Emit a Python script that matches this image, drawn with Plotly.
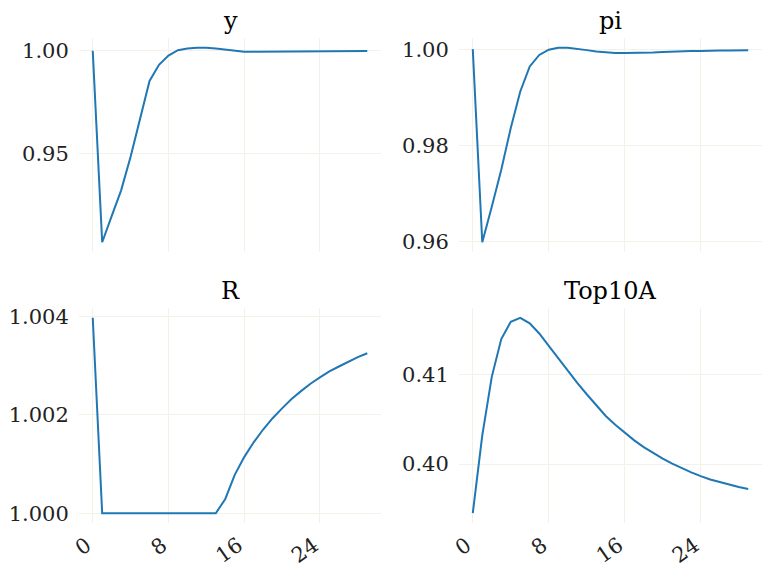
import plotly.graph_objects as go

periods = list(range(30))

y_vals = [1.0000, 0.9067, 0.9194, 0.9320, 0.9484, 0.9671, 0.9853, 0.9932, 0.9977, 1.0003,
          1.0011, 1.0015, 1.0015, 1.0011, 1.0005, 0.9999, 0.9996, 0.9996, 0.9996, 0.9997,
          0.9997, 0.9997, 0.9998, 0.9998, 0.9998, 0.9998, 0.9999, 0.9999, 0.9999, 0.9999]

pi_vals = [1.0000, 0.9598, 0.9672, 0.9749, 0.9836, 0.9912, 0.9964, 0.9988, 0.9999, 1.0003,
           1.0003, 1.0001, 0.9998, 0.9995, 0.9993, 0.9992, 0.9992, 0.9992, 0.9993, 0.9993,
           0.9994, 0.9995, 0.9995, 0.9996, 0.9996, 0.9997, 0.9997, 0.9997, 0.9998, 0.9998]

R_vals = [1.00397, 1.00000, 1.00000, 1.00000, 1.00000, 1.00000, 1.00000, 1.00000, 1.00000, 1.00000,
          1.00000, 1.00000, 1.00000, 1.00000, 1.00029, 1.00078, 1.00114, 1.00144, 1.00170, 1.00193,
          1.00213, 1.00232, 1.00248, 1.00263, 1.00276, 1.00288, 1.00298, 1.00308, 1.00317, 1.00325]

top10a_vals = [0.39451, 0.40321, 0.40974, 0.41396, 0.41590, 0.41634, 0.41571, 0.41459, 0.41321, 0.41179,
               0.41037, 0.40907, 0.40780, 0.40657, 0.40537, 0.40440, 0.40347, 0.40265, 0.40190, 0.40123,
               0.40060, 0.40004, 0.39951, 0.39907, 0.39866, 0.39828, 0.39799, 0.39769, 0.39743, 0.39721]

titles = ["y", "pi", "R", "Top10A"]
series = [y_vals, pi_vals, R_vals, top10a_vals]
y_tickvals = [[0.95, 1.00], [0.96, 0.98, 1.00], [1.000, 1.002, 1.004], [0.40, 0.41]]
y_tickfmt = [".2f", ".2f", ".3f", ".2f"]
x_tickvals = [0, 8, 16, 24]

W, H = 772, 572
# panel pixel boxes (left, right, top, bottom)
boxes = [(79, 381, 38, 252), (459, 762, 38, 252), (79, 381, 308, 523), (459, 762, 308, 523)]

FONT = "DejaVu Serif"
TXT = "#222222"
GRID = "#f4f1e9"
LINE = "#1f77b4"

fig = go.Figure()
layout = dict(width=W, height=H, margin=dict(l=0, r=0, t=0, b=0, autoexpand=False),
              paper_bgcolor="white", plot_bgcolor="white", showlegend=False,
              font=dict(family=FONT, color=TXT, size=21))
annotations = []

def mrange(vals):
    lo, hi = min(vals), max(vals)
    pad = (hi - lo) * 0.05
    return [lo - pad, hi + pad]

for i, (vals, title) in enumerate(zip(series, titles)):
    n = i + 1
    xa = "x" if n == 1 else f"x{n}"
    ya = "y" if n == 1 else f"y{n}"
    fig.add_trace(go.Scatter(x=periods, y=vals, mode="lines",
                             line=dict(color=LINE, width=2), xaxis=xa, yaxis=ya,
                             hoverinfo="skip"))
    l, r, t, b = boxes[i]
    xdom = [l / W, r / W]
    ydom = [1 - b / H, 1 - t / H]
    bottom_row = i >= 2
    layout["xaxis" if n == 1 else f"xaxis{n}"] = dict(
        domain=xdom, anchor=ya, range=mrange(periods), automargin=False,
        tickvals=x_tickvals, showticklabels=bottom_row, tickangle=-35,
        ticklabelshift=-6,
        showgrid=True, gridcolor=GRID, gridwidth=1, zeroline=False, showline=False,
        ticks="outside", ticklen=1, tickcolor="rgba(0,0,0,0)",
        tickfont=dict(family=FONT, size=21, color=TXT))
    layout["yaxis" if n == 1 else f"yaxis{n}"] = dict(
        domain=ydom, anchor=xa, range=mrange(vals), automargin=False,
        tickvals=y_tickvals[i], tickformat=y_tickfmt[i],
        showgrid=True, gridcolor=GRID, gridwidth=1, zeroline=False, showline=False,
        ticks="outside", ticklen=5, tickcolor="rgba(0,0,0,0)",
        tickfont=dict(family=FONT, size=21, color=TXT))
    annotations.append(dict(text=title, xref="paper", yref="paper",
                            x=(xdom[0] + xdom[1]) / 2, y=ydom[1],
                            xanchor="center", yanchor="bottom", yshift=1,
                            showarrow=False, font=dict(family=FONT, size=24, color="black")))

layout["annotations"] = annotations
fig.update_layout(**layout)
fig.write_html("out.html")
